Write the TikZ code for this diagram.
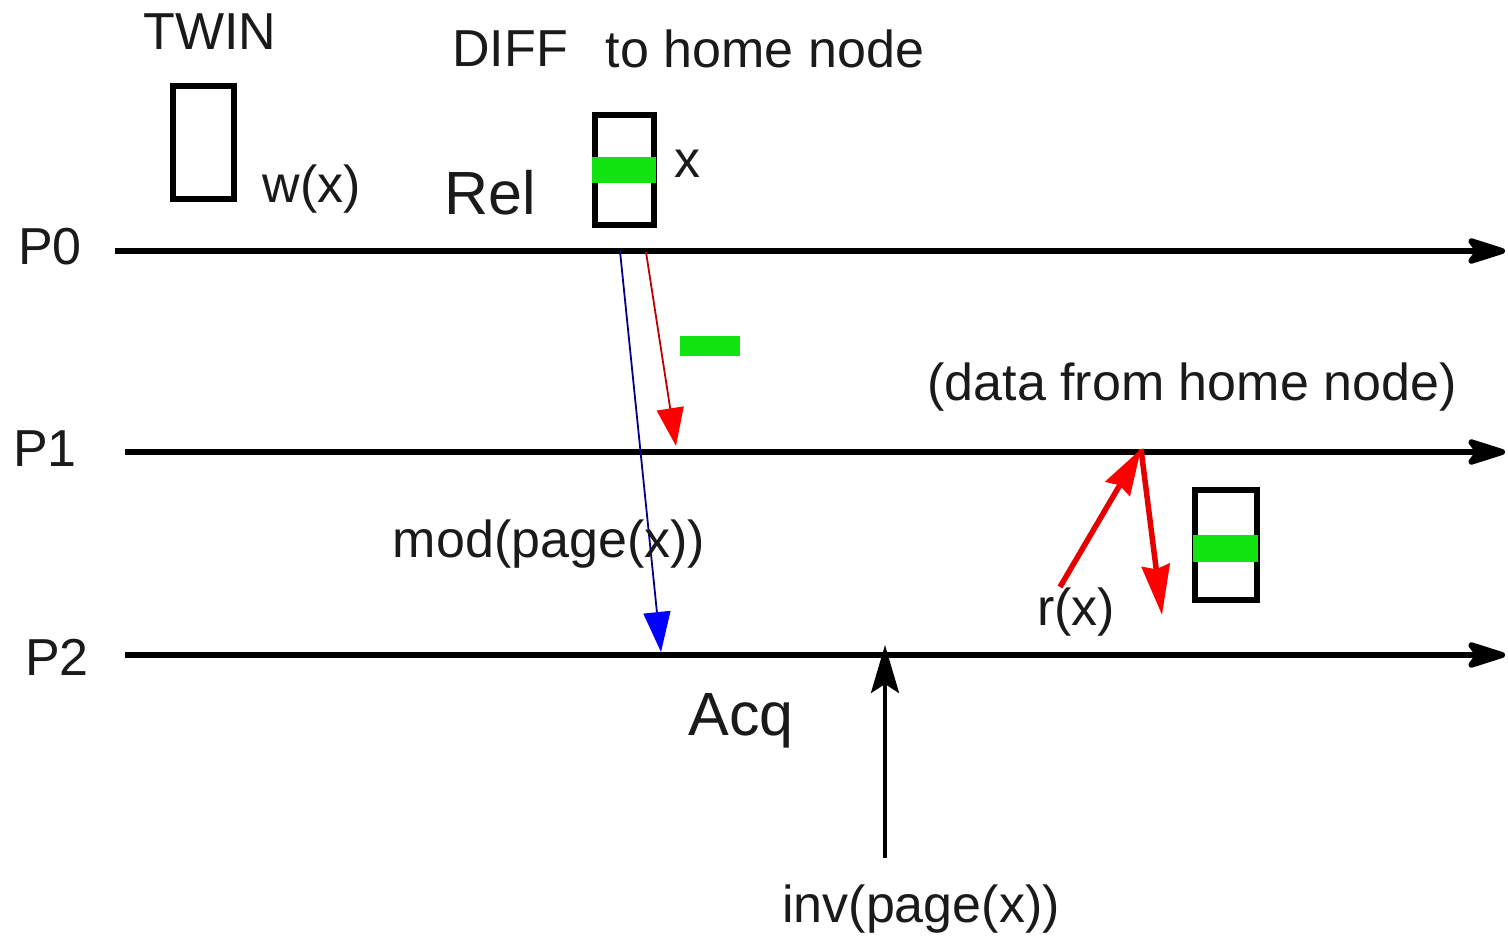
\documentclass[tikz,border=0pt]{standalone}
\usepackage{fontspec}
\setmainfont{Liberation Sans}
\usetikzlibrary{arrows.meta}
\definecolor{pagegreen}{HTML}{12E412}
\definecolor{txt}{HTML}{1A1A1A}
\tikzset{
  lbl/.style={anchor=base, inner sep=0pt, text=txt, font=\fontsize{52}{60}\selectfont},
  biglbl/.style={lbl, font=\fontsize{61}{70}\selectfont},
  timeline/.style={line width=6pt, -{Stealth[length=48pt,width=30pt,inset=11pt,round]}},
  pagebox/.style={draw, line width=6.5pt, inner sep=0pt, fill=white},
  diffbar/.style={fill=pagegreen, draw=none, inner sep=0pt, minimum height=26pt},
  thinmsg/.style={line width=1.8pt},
  thickmsg/.style={line width=5.5pt, draw=red!90!black}
}
\begin{document}
\begin{tikzpicture}[x=1pt,y=-1pt]
\useasboundingbox (0,0) rectangle (1508,941);

% process labels and time lines
\node[lbl] (p0) at (50,265) {P0};
\node[lbl] (p1) at (45,466) {P1};
\node[lbl] (p2) at (57,675) {P2};
\coordinate (p0s) at (115,251); \coordinate (p0e) at (1505,251);
\coordinate (p1s) at (125,452); \coordinate (p1e) at (1505,452);
\coordinate (p2s) at (125,655); \coordinate (p2e) at (1505,655);
\draw[timeline] (p0s) -- (p0e);
\draw[timeline] (p1s) -- (p1e);
\draw[timeline] (p2s) -- (p2e);

% twin page on P0
\node[lbl] (twin) at (210,50) {TWIN};
\node[pagebox, minimum width=61pt, minimum height=113pt] (twinbox) at (203.5,142.5) {};
\node[lbl] (wx) at (312,203) {w(x)};

% diff page at release
\node[lbl] (diff) at (510,67) {DIFF};
\node[lbl] (tohome) at (765,68) {to home node};
\node[biglbl] (rel) at (490,215) {Rel};
\node[pagebox, minimum width=59pt, minimum height=110pt] (diffbox) at (624.5,170) {};
\node[diffbar, minimum width=64pt] (diffword) at (623.5,170) {};
\node[lbl] (xlab) at (687,178) {x};

% messages from P0
\coordinate (modsrc) at (620,251);
\coordinate (modtip) at (661,652);
\coordinate (diffsrc) at (646,252);
\coordinate (difftip) at (676,446);
\draw[thinmsg, draw=blue!55!black, -{Stealth[length=40pt,width=27pt,inset=0pt,color=blue]}] (modsrc) -- (modtip);
\draw[thinmsg, draw=red!75!black, -{Stealth[length=38pt,width=27pt,inset=0pt,color=red]}] (diffsrc) -- (difftip);
\node[diffbar, minimum width=60pt, minimum height=20pt] (sentdiff) at (710,346) {};

\node[lbl] (mod) at (549,557) {mod(page(x))};
\node[biglbl] (acq) at (741,735) {Acq};

% read of x fetched from the home node
\node[lbl] (data) at (1192,400) {(data from home node)};
\coordinate (rsrc) at (1060,587);
\coordinate (home) at (1141,449);
\coordinate (rtip) at (1162,615);
\draw[thickmsg, -{Stealth[length=46pt,width=28pt,inset=4pt,color=red]}] (rsrc) -- (home);
\draw[thickmsg, -{Stealth[length=50pt,width=28pt,inset=4pt,color=red]}] (home) -- (rtip);
\node[lbl] (rx) at (1076,625) {r(x)};
\node[pagebox, minimum width=62pt, minimum height=110pt] (copybox) at (1226,545) {};
\node[diffbar, minimum width=65pt, minimum height=27pt] (copyword) at (1225,548.5) {};

% invalidation arriving at P2
\coordinate (invsrc) at (885,858);
\coordinate (invtip) at (885,645);
\draw[line width=4pt, -{Stealth[length=48pt,width=28pt,inset=9pt]}] (invsrc) -- (invtip);
\node[lbl] (inv) at (921,922) {inv(page(x))};
\end{tikzpicture}
\end{document}
